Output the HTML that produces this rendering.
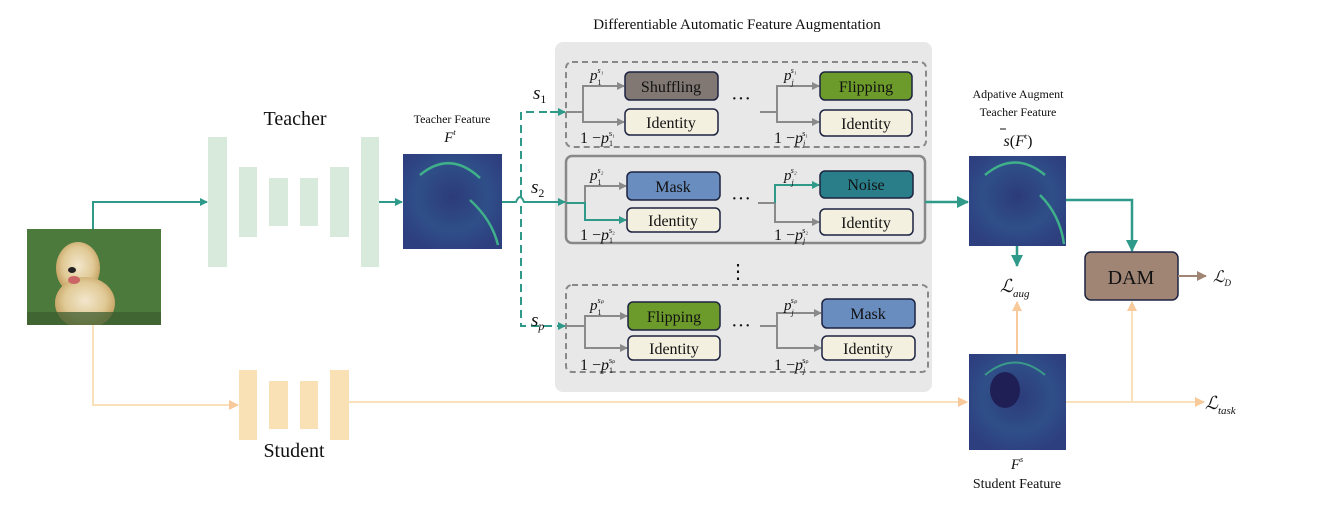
<!DOCTYPE html>
<html><head><meta charset="utf-8"><style>
html,body{margin:0;padding:0;background:#fff;}
svg{display:block;}
text{font-family:"Liberation Serif",serif;fill:#111;}
</style></head><body>
<svg width="1317" height="506" viewBox="0 0 1317 506" xmlns="http://www.w3.org/2000/svg">
<defs>
<marker id="ag" markerWidth="8" markerHeight="8" refX="7" refY="4" orient="auto" markerUnits="userSpaceOnUse"><path d="M0,0 L8,4 L0,8 z" fill="#2f9a8a"/></marker>
<marker id="agr" markerWidth="8" markerHeight="8" refX="7" refY="4" orient="auto" markerUnits="userSpaceOnUse"><path d="M0,0 L8,4 L0,8 z" fill="#8a8a8a"/></marker>
<marker id="ao" markerWidth="10" markerHeight="10" refX="9" refY="5" orient="auto" markerUnits="userSpaceOnUse"><path d="M0,0 L10,5 L0,10 z" fill="#f8c99a"/></marker>
<marker id="ab" markerWidth="10" markerHeight="10" refX="9" refY="5" orient="auto" markerUnits="userSpaceOnUse"><path d="M0,0 L10,5 L0,10 z" fill="#a08575"/></marker>
<marker id="agb" markerWidth="12" markerHeight="12" refX="11" refY="6" orient="auto" markerUnits="userSpaceOnUse"><path d="M0,0 L12,6 L0,12 z" fill="#2f9a8a"/></marker>
<radialGradient id="feat" cx="50%" cy="45%" r="60%"><stop offset="0" stop-color="#2c3b7a"/><stop offset="0.6" stop-color="#2f4f88"/><stop offset="1" stop-color="#2e3f80"/></radialGradient>
<radialGradient id="dog" cx="50%" cy="45%" r="50%"><stop offset="0" stop-color="#f2e6cc"/><stop offset="0.7" stop-color="#e0c995"/><stop offset="1" stop-color="#c9a86a"/></radialGradient>
<clipPath id="dc"><rect x="27" y="229" width="134" height="96"/></clipPath>
</defs>

<!-- dog image -->
<rect x="27" y="229" width="134" height="96" fill="#4c7a3c"/>
<g clip-path="url(#dc)">
<ellipse cx="78" cy="268" rx="22" ry="26" fill="url(#dog)"/>
<ellipse cx="85" cy="303" rx="30" ry="26" fill="url(#dog)"/>
<ellipse cx="72" cy="270" rx="4" ry="3" fill="#222"/>
<ellipse cx="74" cy="280" rx="6" ry="4" fill="#c66"/>
<rect x="27" y="312" width="134" height="13" fill="#3d5e30" opacity="0.75"/>
</g>

<!-- teacher bars -->
<g fill="#d8eadb">
<rect x="208" y="137" width="19" height="130"/><rect x="239" y="167" width="18" height="70"/>
<rect x="269" y="178" width="19" height="48"/><rect x="300" y="178" width="18" height="48"/>
<rect x="330" y="167" width="19" height="70"/><rect x="361" y="137" width="18" height="130"/>
</g>
<text x="295" y="125" font-size="20" text-anchor="middle">Teacher</text>
<g fill="#f9e0b5">
<rect x="239" y="370" width="18" height="70"/><rect x="269" y="381" width="19" height="48"/>
<rect x="300" y="381" width="18" height="48"/><rect x="330" y="370" width="19" height="70"/>
</g>
<text x="294" y="457" font-size="20" text-anchor="middle">Student</text>

<path d="M93,229 V202 H207" stroke="#2f9a8a" stroke-width="2" fill="none" marker-end="url(#ag)"/>
<path d="M93,325 V405 H238" stroke="#fbe1bb" stroke-width="2" fill="none" marker-end="url(#ao)"/>
<path d="M349,402 H967" stroke="#fbe1bb" stroke-width="2" fill="none" marker-end="url(#ao)"/>
<path d="M379,202 H402" stroke="#2f9a8a" stroke-width="2" fill="none" marker-end="url(#ag)"/>

<rect x="403" y="154" width="99" height="95" fill="url(#feat)"/>
<path d="M420,175 Q450,150 480,178 M470,200 Q492,220 498,245" stroke="#3fb08a" stroke-width="2.5" fill="none"/>
<text x="452" y="123" font-size="12" text-anchor="middle">Teacher Feature</text>
<text x="450" y="142" font-size="15" font-style="italic" text-anchor="middle">F<tspan font-size="8" dy="-7">t</tspan></text>

<rect x="555" y="42" width="377" height="350" rx="8" fill="#e8e8e8"/>
<text x="737" y="29" font-size="15" text-anchor="middle">Differentiable Automatic Feature Augmentation</text>
<rect x="566" y="62" width="360" height="85" rx="6" fill="none" stroke="#888" stroke-width="2" stroke-dasharray="6,4"/>
<rect x="566" y="156" width="359" height="87" rx="6" fill="none" stroke="#888" stroke-width="2.5"/>
<rect x="566" y="285" width="362" height="87" rx="6" fill="none" stroke="#888" stroke-width="2" stroke-dasharray="6,4"/>
<text x="738" y="278" font-size="20" text-anchor="middle">⋮</text>

<path d="M502,202 H516 q4,-10 8,0 H565" stroke="#2f9a8a" stroke-width="2" fill="none" marker-end="url(#ag)"/>
<path d="M521,198 V112 H565 M521,206 V326 H565" stroke="#2f9a8a" stroke-width="2" fill="none" stroke-dasharray="8,5" marker-end="url(#ag)"/>
<path d="M550,112 H565" stroke="#2f9a8a" stroke-width="2" marker-end="url(#ag)"/>
<text x="533" y="99" font-size="19" font-style="italic">s<tspan font-size="12" font-style="normal" dy="4">1</tspan></text>
<text x="531" y="193" font-size="19" font-style="italic">s<tspan font-size="12" font-style="normal" dy="4">2</tspan></text>
<text x="531" y="326" font-size="19" font-style="italic">s<tspan font-size="12" dy="4">p</tspan></text>

<g stroke="#8a8a8a" stroke-width="2" fill="none">
<path d="M566,112 H583 V86 H624" marker-end="url(#agr)"/><path d="M583,112 V122 H624" marker-end="url(#agr)"/>
<path d="M760,112 H777 V86 H819" marker-end="url(#agr)"/><path d="M777,112 V122 H819" marker-end="url(#agr)"/>
<path d="M566,203 H585 V186 H626" marker-end="url(#agr)"/>
<path d="M758,203 H775 V222 H819" marker-end="url(#agr)"/>
<path d="M566,326 H585 V316 H627" marker-end="url(#agr)"/><path d="M585,326 V348 H627" marker-end="url(#agr)"/>
<path d="M760,326 H777 V313 H821" marker-end="url(#agr)"/><path d="M777,326 V348 H821" marker-end="url(#agr)"/>
</g>
<g stroke="#2f9a8a" stroke-width="2" fill="none">
<path d="M566,203 H585 V220 H626" marker-end="url(#ag)"/>
<path d="M775,203 V185 H819" marker-end="url(#ag)"/>
</g>
<g font-size="20" text-anchor="middle"><text x="741" y="105">···</text><text x="741" y="205">···</text><text x="741" y="332">···</text></g>

<g font-size="15" font-style="italic">
<text x="590" y="80">p<tspan font-size="8" font-style="normal" dy="5">1</tspan><tspan font-size="8" dx="-4" dy="-12">s₁</tspan></text>
<text x="784" y="80">p<tspan font-size="8" dy="5">j</tspan><tspan font-size="8" dx="-3" dy="-12">s₁</tspan></text>
<text x="590" y="180">p<tspan font-size="8" font-style="normal" dy="5">1</tspan><tspan font-size="8" dx="-4" dy="-12">s₂</tspan></text>
<text x="784" y="180">p<tspan font-size="8" dy="5">j</tspan><tspan font-size="8" dx="-3" dy="-12">s₂</tspan></text>
<text x="590" y="310">p<tspan font-size="8" font-style="normal" dy="5">1</tspan><tspan font-size="8" dx="-4" dy="-12">sₚ</tspan></text>
<text x="784" y="310">p<tspan font-size="8" dy="5">j</tspan><tspan font-size="8" dx="-3" dy="-12">sₚ</tspan></text>
</g>
<g font-size="16">
<text x="580" y="143">1 −<tspan font-style="italic">p</tspan><tspan font-size="8" dy="3">1</tspan><tspan font-size="8" dx="-4" dy="-10">s₁</tspan></text>
<text x="774" y="143">1 −<tspan font-style="italic">p</tspan><tspan font-size="8" font-style="italic" dy="3">j</tspan><tspan font-size="8" dx="-3" dy="-10">s₁</tspan></text>
<text x="580" y="240">1 −<tspan font-style="italic">p</tspan><tspan font-size="8" dy="3">1</tspan><tspan font-size="8" dx="-4" dy="-10">s₂</tspan></text>
<text x="774" y="240">1 −<tspan font-style="italic">p</tspan><tspan font-size="8" font-style="italic" dy="3">j</tspan><tspan font-size="8" dx="-3" dy="-10">s₂</tspan></text>
<text x="580" y="370">1 −<tspan font-style="italic">p</tspan><tspan font-size="8" dy="3">1</tspan><tspan font-size="8" dx="-4" dy="-10">sₚ</tspan></text>
<text x="774" y="370">1 −<tspan font-style="italic">p</tspan><tspan font-size="8" font-style="italic" dy="3">j</tspan><tspan font-size="8" dx="-3" dy="-10">sₚ</tspan></text>
</g>

<g stroke="#1c2340" stroke-width="1.5">
<rect x="625" y="72" width="93" height="28" rx="5" fill="#817873"/>
<rect x="625" y="109" width="93" height="26" rx="5" fill="#f4f0e0"/>
<rect x="820" y="72" width="92" height="28" rx="5" fill="#6d9b2b"/>
<rect x="820" y="110" width="92" height="26" rx="5" fill="#f4f0e0"/>
<rect x="627" y="172" width="93" height="28" rx="5" fill="#6a8dbf"/>
<rect x="627" y="208" width="93" height="24" rx="5" fill="#f4f0e0"/>
<rect x="820" y="171" width="93" height="27" rx="5" fill="#2a7e8a"/>
<rect x="820" y="209" width="93" height="26" rx="5" fill="#f4f0e0"/>
<rect x="628" y="302" width="92" height="28" rx="5" fill="#6d9b2b"/>
<rect x="628" y="336" width="92" height="24" rx="5" fill="#f4f0e0"/>
<rect x="822" y="299" width="93" height="29" rx="5" fill="#6a8dbf"/>
<rect x="822" y="336" width="93" height="24" rx="5" fill="#f4f0e0"/>
</g>
<g font-size="16" text-anchor="middle">
<text x="671" y="92">Shuffling</text><text x="671" y="128">Identity</text>
<text x="866" y="92">Flipping</text><text x="866" y="129">Identity</text>
<text x="673" y="192">Mask</text><text x="673" y="226">Identity</text>
<text x="866" y="190">Noise</text><text x="866" y="228">Identity</text>
<text x="674" y="322">Flipping</text><text x="674" y="354">Identity</text>
<text x="868" y="319">Mask</text><text x="868" y="354">Identity</text>
</g>

<path d="M925,202 H968" stroke="#2f9a8a" stroke-width="2.5" fill="none" marker-end="url(#agb)"/>
<rect x="969" y="156" width="97" height="90" fill="url(#feat)"/>
<path d="M985,175 Q1015,150 1045,175 M1040,195 Q1060,215 1064,244" stroke="#3fb08a" stroke-width="2.5" fill="none"/>
<text x="1018" y="98" font-size="12" text-anchor="middle">Adpative Augment</text>
<text x="1018" y="116" font-size="12" text-anchor="middle">Teacher Feature</text>
<text x="1018" y="146" font-size="16" text-anchor="middle"><tspan font-style="italic">s</tspan>(<tspan font-style="italic">F</tspan><tspan font-size="8" dy="-7">t</tspan><tspan dy="7">)</tspan></text>
<path d="M1000,129 h6" stroke="#111" stroke-width="1"/>
<path d="M1066,200 H1132 V251" stroke="#2f9a8a" stroke-width="2.5" fill="none" marker-end="url(#agb)"/>
<path d="M1017,246 V266" stroke="#2f9a8a" stroke-width="2.5" fill="none" marker-end="url(#agb)"/>
<text x="1000" y="292" font-size="18" font-style="italic">ℒ<tspan font-size="11" dy="5">aug</tspan></text>
<path d="M1017,354 V302" stroke="#f8c99a" stroke-width="2" fill="none" marker-end="url(#ao)"/>
<rect x="969" y="354" width="97" height="96" fill="url(#feat)"/>
<ellipse cx="1005" cy="390" rx="15" ry="18" fill="#1f1f55"/>
<path d="M985,375 Q1015,350 1045,375" stroke="#3a9a8a" stroke-width="2" fill="none"/>
<text x="1017" y="469" font-size="15" font-style="italic" text-anchor="middle">F<tspan font-size="8" dy="-7">s</tspan></text>
<text x="1017" y="488" font-size="14" text-anchor="middle">Student Feature</text>
<rect x="1085" y="252" width="93" height="48" rx="6" fill="#a08575" stroke="#1c2340" stroke-width="1.5"/>
<text x="1131" y="284" font-size="20" text-anchor="middle">DAM</text>
<path d="M1178,276 H1206" stroke="#a08575" stroke-width="2" fill="none" marker-end="url(#ab)"/>
<text x="1213" y="282" font-size="16" font-style="italic">ℒ<tspan font-size="9" dy="4">D</tspan></text>
<path d="M1066,402 H1204" stroke="#fbe1bb" stroke-width="2" fill="none" marker-end="url(#ao)"/>
<path d="M1132,402 V302" stroke="#fbe1bb" stroke-width="2" fill="none" marker-end="url(#ao)"/>
<text x="1205" y="409" font-size="18" font-style="italic">ℒ<tspan font-size="11" dy="5">task</tspan></text>
</svg>
</body></html>
